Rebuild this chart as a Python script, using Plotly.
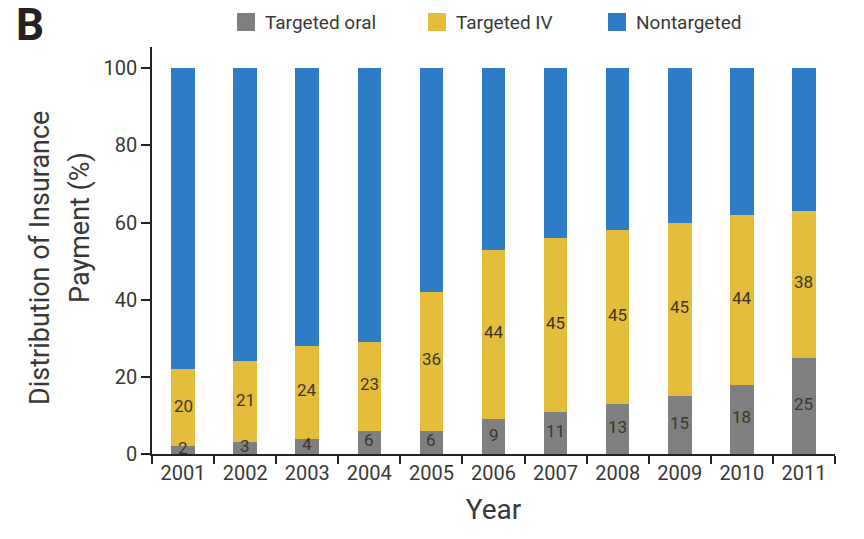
import plotly.graph_objects as go

years = ["2001", "2002", "2003", "2004", "2005", "2006", "2007", "2008", "2009", "2010", "2011"]
targeted_oral = [2, 3, 4, 6, 6, 9, 11, 13, 15, 18, 25]
targeted_iv = [20, 21, 24, 23, 36, 44, 45, 45, 45, 44, 38]
nontargeted = [100 - o - v for o, v in zip(targeted_oral, targeted_iv)]

series_names = ["Targeted oral", "Targeted IV", "Nontargeted"]
series_colors = ["#7F7F7F", "#E5BD3D", "#2F7CC6"]

FONT = "Roboto, Liberation Sans, sans-serif"
TXT = "#383838"
LABEL = "#3a3828"

# figure geometry (pixels) used to place the legend and titles
W, H = 864, 539
L, R, T, B = 152, 29, 47, 85
PW, PH = W - L - R, H - T - B


def px_x(px):
    return (px - L) / PW


def px_y(py):
    return (H - B - py) / PH


fig = go.Figure()
for name, vals, col in zip(series_names,
                           [targeted_oral, targeted_iv, nontargeted],
                           series_colors):
    fig.add_trace(go.Bar(
        x=years, y=vals, name=name,
        marker=dict(color=col, line=dict(width=0)),
        showlegend=False,
    ))

# value labels centred in the oral and IV segments (kept above all bars);
# on a category axis the annotation x is the category index
for i, (o, v) in enumerate(zip(targeted_oral, targeted_iv)):
    for val, mid in ((o, o / 2), (v, o + v / 2)):
        fig.add_annotation(text=str(val), x=i, y=mid, xref="x", yref="y",
                           showarrow=False, xanchor="center", yanchor="middle",
                           yshift=2,
                           font=dict(family=FONT, size=17, color=LABEL))

fig.update_layout(
    barmode="stack",
    bargap=0.62,
    width=W, height=H,
    margin=dict(l=L, r=R, t=T, b=B),
    plot_bgcolor="white", paper_bgcolor="white",
    font=dict(family=FONT, color=TXT, size=19),
    xaxis=dict(
        type="category", categoryorder="array", categoryarray=years,
        tickson="boundaries", ticks="outside", ticklen=8,
        tickwidth=1.5, tickcolor="#222", showline=True, linecolor="#222",
        linewidth=1.5, showgrid=False,
        tickfont=dict(family=FONT, size=20, color=TXT),
        title=dict(text="Year", font=dict(family=FONT, size=28, color=TXT), standoff=16),
    ),
    yaxis=dict(
        range=[0, 105.5], tickvals=[0, 20, 40, 60, 80, 100], ticks="outside",
        ticklen=9, tickwidth=1.5, tickcolor="#222", showline=True,
        linecolor="#222", linewidth=1.5, showgrid=False, zeroline=False,
        tickfont=dict(family=FONT, size=20, color=TXT),
    ),
)

# y-axis title, two rotated lines
fig.add_annotation(text="Distribution of Insurance", textangle=-90,
                   x=px_x(40), y=px_y(258), xref="paper", yref="paper",
                   xanchor="center", yanchor="middle", showarrow=False,
                   font=dict(family=FONT, size=27, color=TXT))
fig.add_annotation(text="Payment (%)", textangle=-90,
                   x=px_x(80), y=px_y(228), xref="paper", yref="paper",
                   xanchor="center", yanchor="middle", showarrow=False,
                   font=dict(family=FONT, size=27, color=TXT))

# panel letter
fig.add_annotation(text="<b>B</b>", x=px_x(14), y=px_y(25), xref="paper", yref="paper",
                   xanchor="left", yanchor="middle", showarrow=False,
                   font=dict(family=FONT, size=44, color="#222"))

# legend row across the top
legend_left = [237, 428, 608]
for name, col, lx in zip(series_names, series_colors, legend_left):
    fig.add_shape(type="rect", xref="paper", yref="paper",
                  x0=px_x(lx), x1=px_x(lx + 18), y0=px_y(31), y1=px_y(13),
                  fillcolor=col, line=dict(width=0))
    fig.add_annotation(text=name, x=px_x(lx + 26), y=px_y(22), xref="paper", yref="paper",
                       xanchor="left", yanchor="middle", showarrow=False,
                       font=dict(family=FONT, size=19, color=TXT))

fig.write_html("out.html")
